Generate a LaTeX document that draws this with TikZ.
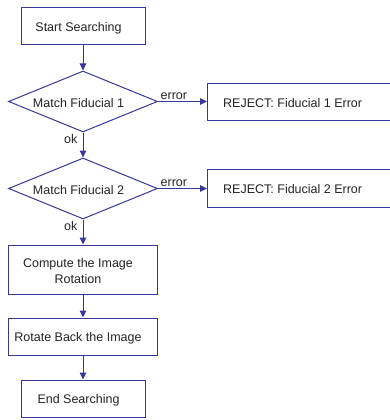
\documentclass[tikz,border=0pt]{standalone}
\usepackage{fontspec}
\setmainfont{Liberation Sans}
\usetikzlibrary{shapes.geometric,arrows.meta}
\definecolor{flowblue}{RGB}{55,55,155}
\definecolor{flowtext}{RGB}{35,35,35}
\tikzset{
  flowfont/.style={text=flowtext, font=\fontsize{12.5}{16}\selectfont},
  box/.style={draw=flowblue, line width=1pt, rectangle, inner sep=0pt},
  decision/.style={draw=flowblue, line width=1pt, diamond, aspect=2.44,
    inner sep=0pt, minimum width=149pt, minimum height=61pt},
  caption/.style={label={[flowfont, align=center, inner sep=0pt,
    xshift=-4.5pt, yshift=-1.3pt]center:#1}},
  flow/.style={draw=flowblue, line width=1pt,
    -{Triangle[width=6.5pt,length=7pt]}},
  edgelabel/.style={flowfont, inner sep=1.5pt}
}
\begin{document}
\begin{tikzpicture}[x=1pt,y=-1pt]
  \useasboundingbox (0,0) rectangle (390,420);
  \clip (0,0) rectangle (390,420);

  % main column
  \node[box, minimum width=124pt, minimum height=37pt, caption={Start Searching}]
    (start) at (83,26.5) {};
  \node[decision, caption={Match Fiducial 1}] (fid1) at (83,101.5) {};
  \node[decision, caption={Match Fiducial 2}] (fid2) at (83,188.5) {};
  \node[box, minimum width=149pt, minimum height=49pt,
    caption={Compute the Image\\Rotation}] (rot) at (82.5,269.5) {};
  \node[box, minimum width=149pt, minimum height=37pt,
    caption={Rotate Back the Image}] (back) at (82.5,336.5) {};
  \node[box, minimum width=124pt, minimum height=37pt, caption={End Searching}]
    (finish) at (83,398.5) {};

  % rejection boxes (run off the right edge)
  \node[box, minimum width=200pt, minimum height=37pt, anchor=west] (rej1) at (207,101.5) {};
  \node[flowfont, anchor=west, inner sep=0pt, yshift=-1.3pt] (rej1text) at (223,101.5)
    {REJECT: Fiducial 1 Error};
  \node[box, minimum width=200pt, minimum height=38pt, anchor=west] (rej2) at (207,188) {};
  \node[flowfont, anchor=west, inner sep=0pt, yshift=-1.3pt] (rej2text) at (223,188)
    {REJECT: Fiducial 2 Error};

  % connectors
  \draw[flow] (start.south) -- (fid1.north);
  \draw[flow] (fid1.south) -- (fid2.north);
  \draw[flow] (fid2.south) -- (rot.north -| fid2.south);
  \draw[flow] (rot.south -| fid2.south) -- (back.north -| fid2.south);
  \draw[flow] (back.south -| fid2.south) -- (finish.north);
  \draw[flow] (fid1.east) -- (rej1.west);
  \draw[flow] (fid2.east) -- (fid2.east -| rej2.west);

  % branch labels
  \node[edgelabel, anchor=south west] (err1) at (159,101.5) {error};
  \node[edgelabel, anchor=south west] (err2) at (159,188.5) {error};
  \node[edgelabel, anchor=east] (ok1) at (79,139.5) {ok};
  \node[edgelabel, anchor=east] (ok2) at (79,226) {ok};
\end{tikzpicture}
\end{document}
